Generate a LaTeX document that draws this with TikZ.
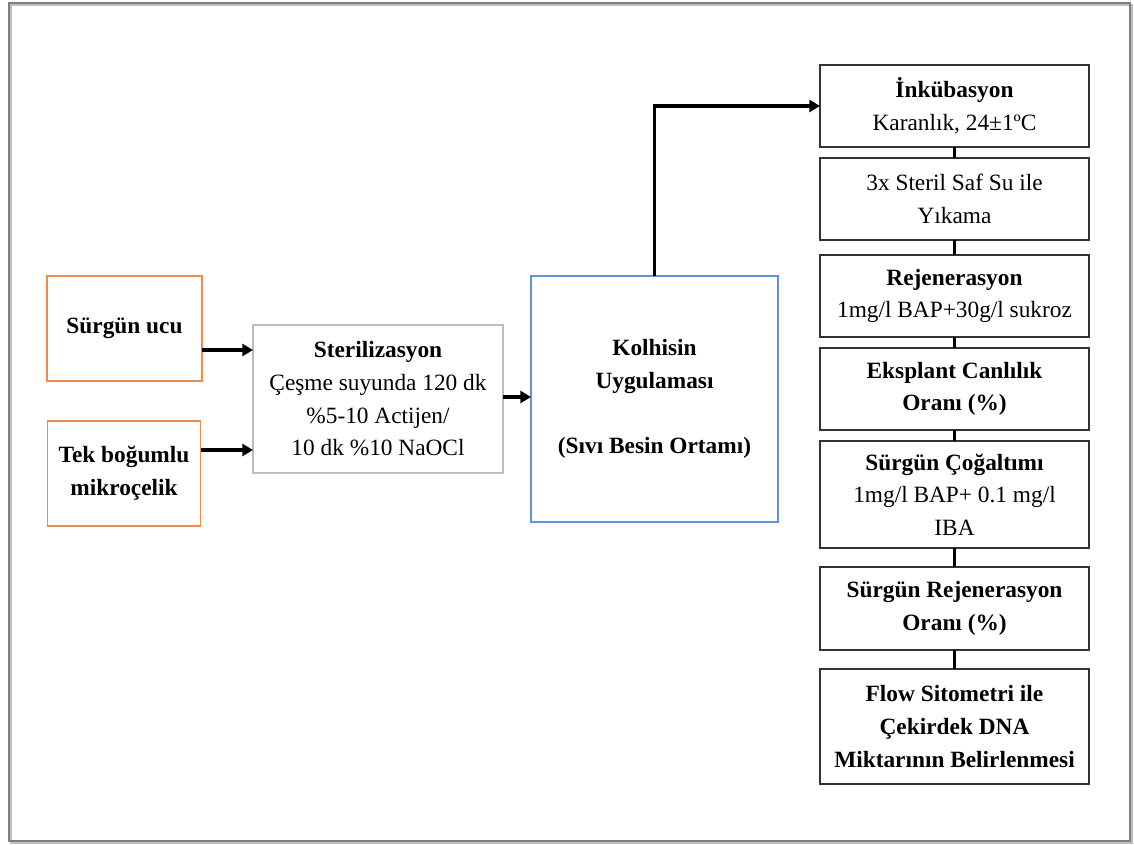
\documentclass[tikz,border=0pt]{standalone}
\usepackage{fontspec}
\setmainfont{Liberation Serif}
\usepackage{xcolor}
\usepackage{tikz}
\usetikzlibrary{arrows.meta,positioning}
\definecolor{Frame}{HTML}{7F7F7F}
\definecolor{Orange}{HTML}{F08C4E}
\definecolor{SkyB}{HTML}{6290DA}
\definecolor{LGray}{HTML}{BDBDBD}
\definecolor{Ink}{HTML}{333333}

\begin{document}
\begin{tikzpicture}[x=0.75pt,y=-0.75pt,
    font=\fontsize{17.5}{24.5}\selectfont,
    src/.style={draw=Orange,line width=1pt,align=center,inner sep=0pt,outer sep=0pt,
      font=\fontsize{17.5}{24.5}\selectfont\bfseries},
    ster/.style={draw=LGray,line width=1pt,align=center,inner sep=0pt,outer sep=0pt,
      minimum width=187.5pt,minimum height=111pt},
    kol/.style={draw=SkyB,line width=1pt,align=center,inner sep=0pt,outer sep=0pt,
      minimum width=185.25pt,minimum height=184.5pt,font=\fontsize{17.5}{24.5}\selectfont\bfseries},
    stage/.style={draw=Ink,line width=1.3pt,align=center,inner sep=0pt,outer sep=0pt,
      minimum width=201.75pt,minimum height=61.5pt},
    link/.style={line width=2.3pt,black},
    flow/.style={line width=2.3pt,black,-{Triangle[length=8pt,width=9pt]}}]
  \useasboundingbox (0,0) rectangle (1134,845);
  \draw[Frame!50,line width=2pt] (11,5) rectangle (1132,843);
  \draw[Frame,line width=2.2pt] (9,3) rectangle (1130,841);
  % left part
  \node[src,minimum width=116.25pt,minimum height=78.75pt] (tip) at (124.5,328.5) {Sürgün ucu};
  \node[src,minimum width=114.75pt,minimum height=78.75pt] (node) at (124,473.5) {Tek boğumlu\\mikroçelik};
  \node[ster] (steril) at (378,399) {\textbf{Sterilizasyon}\\Çeşme suyunda 120 dk\\%
    \%5-10 Actijen/\\10 dk \%10 NaOCl};
  \node[kol] (kolh) at (654.5,399) {Kolhisin\\Uygulaması\\[24.5pt](Sıvı Besin Ortamı)};
  % right column
  \node[stage] (inku) at (954.5,106) {\textbf{İnkübasyon}\\Karanlık, 24±1ºC};
  \node[stage,below=8.25pt of inku] (wash) {3x Steril Saf Su ile\\Yıkama};
  \node[stage,below=11.25pt of wash] (rejen) {\textbf{Rejenerasyon}\\1mg/l BAP+30g/l sukroz};
  \node[stage,below=8.25pt of rejen,font=\fontsize{17.5}{24.5}\selectfont\bfseries] (viab) {Eksplant Canlılık\\Oranı (\%)};
  \node[stage,below=8.25pt of viab,minimum height=80.25pt] (multi) {\textbf{Sürgün Çoğaltımı}\\1mg/l BAP+ 0.1 mg/l\\IBA};
  \node[stage,below=14.25pt of multi,minimum height=62.25pt,font=\fontsize{17.5}{24.5}\selectfont\bfseries] (rate) {Sürgün Rejenerasyon\\Oranı (\%)};
  \node[stage,below=14.25pt of rate,minimum height=86.25pt,font=\fontsize{17.5}{24.5}\selectfont\bfseries] (fcm) {Flow Sitometri ile\\Çekirdek DNA\\Miktarının Belirlenmesi};
  % connectors
  \draw[flow] (tip.east |- 0,350) -- (steril.west |- 0,350);
  \draw[flow] (node.east |- 0,450) -- (steril.west |- 0,450);
  \draw[flow] (steril.east |- 0,397) -- (kolh.west |- 0,397);
  \draw[flow] (kolh.north) |- (inku.west);
  \foreach \a/\b in {inku/wash,wash/rejen,rejen/viab,viab/multi,multi/rate,rate/fcm}
    \draw[link] (\a.south) -- (\b.north);
\end{tikzpicture}
\end{document}
